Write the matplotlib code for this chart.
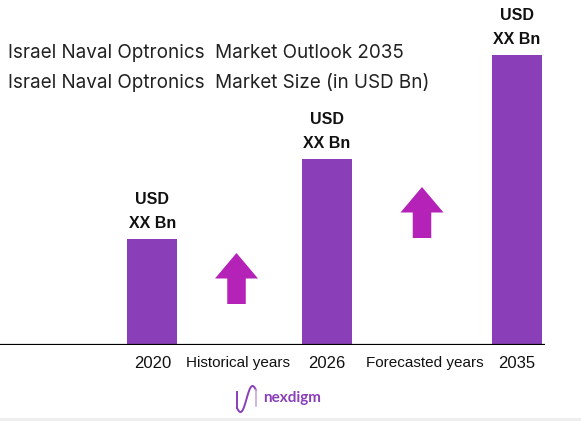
import matplotlib
matplotlib.use("Agg")
import matplotlib.pyplot as plt
from matplotlib.patches import FancyArrow, Rectangle
from matplotlib.lines import Line2D
import numpy as np

# ---- data ----
years = ["2020", "2026", "2035"]
values = [1.06, 1.86, 2.90]          # relative market size (values shown as XX)
value_labels = ["USD\nXX Bn", "USD\nXX Bn", "USD\nXX Bn"]
period_labels = ["Historical years", "Forecasted years"]
title_lines = ["Israel Naval Optronics  Market Outlook 2035",
               "Israel Naval Optronics  Market Size (in USD Bn)"]

# ---- layout ----
W, H = 581, 421
bar_pos = [1.523, 3.27, 5.168]
bar_w = 0.50
period_pos = [2.385, 4.245]
arrow_pos = [(2.365, 0.41), (4.22, 1.07)]
bar_color = "#8A3FB8"
arrow_color = "#B422B8"
font = "Inter"

fig = plt.figure(figsize=(W / 100, H / 100), dpi=100)
fig.patch.set_facecolor("white")
ax = fig.add_axes([0, (H - 345) / H, 545 / W, 345 / H])
ax.set_xlim(0, 5.45)
ax.set_ylim(0, 3.45)
ax.axis("off")

ax.bar(bar_pos, values, width=bar_w, color=bar_color, zorder=2)
ax.axhline(0, color="black", lw=1.6, zorder=3)

for x, v, lab in zip(bar_pos, values, value_labels):
    l1, l2 = lab.split("\n")
    ax.text(x, v + 0.16, l2, ha="center", va="center", fontsize=11.5,
            fontweight="bold", family="Liberation Sans", color="#111111")
    ax.text(x, v + 0.40, l1, ha="center", va="center", fontsize=11.5,
            fontweight="bold", family="Liberation Sans", color="#111111")

for (x, y0) in arrow_pos:
    ax.add_patch(FancyArrow(x, y0, 0, 0.51, width=0.185, head_width=0.43,
                            head_length=0.255, length_includes_head=True,
                            color=arrow_color, lw=0, zorder=2))

# x labels
for x, lab in zip(bar_pos, years):
    ax.text(x, -0.18, lab, ha="center", va="center", fontsize=12,
            family="Liberation Sans", color="#111111", clip_on=False)
for x, lab in zip(period_pos, period_labels):
    ax.text(x, -0.18, lab, ha="center", va="center", fontsize=11,
            family="Liberation Sans", color="#111111", clip_on=False)

# titles
fig.text(8 / W, 1 - 53 / H, title_lines[0], ha="left", va="center",
         fontsize=13.6, family=font, color="#222222")
fig.text(8 / W, 1 - 82 / H, title_lines[1], ha="left", va="center",
         fontsize=13.6, family=font, color="#222222")

# logo
fig.text(263 / W, 1 - 398 / H, "nexdigm", ha="left", va="center",
         fontsize=11, fontweight="bold", family="Lato", color="#8A3FB8")
t = np.linspace(0, 1, 60)
lx = 237 + 19 * t
ly = 408 - 18 * (0.5 - 0.5 * np.cos(np.pi * t)) + 6 * np.sin(2 * np.pi * t)
fig.add_artist(Line2D(lx / W, 1 - ly / H, color="#8A3FB8", lw=1.4,
                      transform=fig.transFigure))
fig.add_artist(Line2D([237 / W, 237 / W], [1 - 408 / H, 1 - 392 / H],
                      color="#8A3FB8", lw=1.4, transform=fig.transFigure))
fig.add_artist(Line2D([256 / W, 256 / W], [1 - 406 / H, 1 - 390 / H],
                      color="#C9A6E0", lw=1.2, transform=fig.transFigure))

# bottom strip
fig.add_artist(Rectangle((0, 0), 1, 3 / H, transform=fig.transFigure,
                         color="#EEEEEE", lw=0))

fig.savefig("out.png", dpi=100)
